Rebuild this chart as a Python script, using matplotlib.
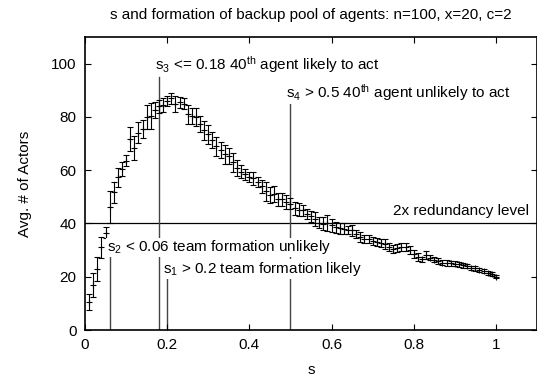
import matplotlib
matplotlib.use("Agg")
import matplotlib.pyplot as plt

plt.rcParams["font.family"] = ["Liberation Sans", "DejaVu Sans"]
plt.rcParams["mathtext.fontset"] = "custom"
plt.rcParams["mathtext.rm"] = "Liberation Sans"
plt.rcParams["mathtext.it"] = "Liberation Sans:italic"
plt.rcParams["mathtext.default"] = "rm"

# data
s = [0.01, 0.02, 0.03, 0.04, 0.05, 0.06, 0.07, 0.08, 0.09, 0.10,
     0.11, 0.12, 0.13, 0.14, 0.15, 0.16, 0.17, 0.18, 0.19, 0.20,
     0.21, 0.22, 0.23, 0.24, 0.25, 0.26, 0.27, 0.28, 0.29, 0.30,
     0.31, 0.32, 0.33, 0.34, 0.35, 0.36, 0.37, 0.38, 0.39, 0.40,
     0.41, 0.42, 0.43, 0.44, 0.45, 0.46, 0.47, 0.48, 0.49, 0.50,
     0.51, 0.52, 0.53, 0.54, 0.55, 0.56, 0.57, 0.58, 0.59, 0.60,
     0.61, 0.62, 0.63, 0.64, 0.65, 0.66, 0.67, 0.68, 0.69, 0.70,
     0.71, 0.72, 0.73, 0.74, 0.75, 0.76, 0.77, 0.78, 0.79, 0.80,
     0.81, 0.82, 0.83, 0.84, 0.85, 0.86, 0.87, 0.88, 0.89, 0.90,
     0.91, 0.92, 0.93, 0.94, 0.95, 0.96, 0.97, 0.98, 0.99, 1.00]

actors = [10.6, 16.8, 23.0, 31.0, 36.5, 46.0, 51.7, 57.3, 60.5, 63.6,
          71.7, 68.5, 74.1, 75.4, 79.8, 80.4, 82.5, 84.0, 84.5, 86.0,
          87.0, 85.0, 85.5, 85.0, 81.0, 80.5, 80.0, 77.5, 75.0, 73.5,
          71.5, 69.0, 67.5, 66.0, 65.5, 63.0, 61.0, 59.5, 58.5, 57.5,
          57.0, 55.5, 54.0, 52.0, 50.5, 51.0, 49.0, 49.0, 48.0, 47.4,
          45.7, 45.2, 44.9, 43.6, 42.7, 41.7, 40.3, 39.9, 40.3, 39.3,
          38.6, 38.2, 38.0, 37.4, 37.4, 36.1, 34.9, 34.3, 34.0, 33.3,
          33.0, 32.8, 32.3, 31.2, 30.5, 30.9, 31.2, 31.0, 30.2, 28.4,
          27.4, 26.5, 28.0, 27.2, 26.4, 25.9, 25.3, 25.2, 25.0, 24.9,
          24.7, 24.3, 24.1, 23.4, 23.1, 22.4, 22.2, 21.4, 21.0, 20.0]

err = [3.0, 4.5, 4.5, 4.0, 2.0, 6.0, 4.0, 3.5, 2.5, 2.0,
       4.5, 4.5, 4.0, 3.5, 4.5, 5.0, 3.0, 2.5, 2.5, 2.0,
       2.0, 3.0, 2.0, 2.0, 3.5, 3.0, 3.5, 3.0, 3.5, 3.5,
       3.0, 3.5, 3.0, 3.5, 3.0, 3.5, 3.0, 2.5, 2.0, 2.0,
       2.5, 2.0, 2.5, 3.5, 3.0, 3.0, 2.5, 2.5, 2.5, 2.0,
       2.5, 2.5, 2.0, 2.0, 2.0, 2.5, 2.0, 2.5, 3.0, 2.5,
       2.0, 2.0, 2.0, 1.5, 2.0, 1.5, 2.0, 1.5, 1.5, 1.5,
       1.5, 1.5, 2.0, 1.5, 1.5, 1.5, 1.5, 1.5, 1.5, 1.5,
       1.5, 1.0, 1.5, 1.0, 1.0, 1.0, 1.0, 1.0, 1.0, 1.0,
       1.0, 1.0, 0.8, 0.8, 0.8, 0.8, 0.8, 0.6, 0.6, 0.6]

# thresholds: (x, top of line, label x, label y, label)
thresholds = [
    (0.06, 28, 0.054, 31, r"s$_2$ < 0.06 team formation unlikely"),
    (0.20, 20, 0.19, 23, r"s$_1$ > 0.2 team formation likely"),
    (0.18, 95, 0.17, 99.5, r"s$_3$ <= 0.18 40$^{th}$ agent likely to act"),
    (0.50, 85, 0.49, 89, r"s$_4$ > 0.5 40$^{th}$ agent unlikely to act"),
]
redundancy = 40

fig = plt.figure(figsize=(5.37, 3.80), dpi=100)
ax = fig.add_axes([85 / 537, 50 / 380, 452 / 537, 293 / 380])

ax.axhline(redundancy, color="black", lw=0.9, zorder=1)
for x, top, lx, ly, txt in thresholds:
    ax.plot([x, x], [0, top], color="#444444", lw=1.0, zorder=1)

ax.errorbar(s, actors, yerr=err, fmt="+", color="black", ms=4, mew=0.8,
            elinewidth=0.8, capsize=2.2, capthick=0.8, zorder=2)

for x, top, lx, ly, txt in thresholds:
    ax.text(lx, ly, txt, fontsize=11, ha="left", va="center", zorder=3,
            bbox=dict(facecolor="white", edgecolor="none", pad=0.5))
ax.text(0.75, 44.5, "2x redundancy level", fontsize=11, ha="left", va="center")

ax.set_xlim(0, 1.1)
ax.set_ylim(0, 110)
ax.set_xticks([0, 0.2, 0.4, 0.6, 0.8, 1.0])
ax.set_xticklabels(["0", "0.2", "0.4", "0.6", "0.8", "1"])
ax.set_yticks([0, 20, 40, 60, 80, 100])
ax.tick_params(direction="in", top=True, right=True, length=4, width=0.8,
               labelsize=11, pad=6)
for sp in ax.spines.values():
    sp.set_linewidth(1.2)

ax.set_xlabel("s", fontsize=11, labelpad=8)
ax.set_ylabel("Avg. # of Actors", fontsize=11, labelpad=14)
ax.set_title("s and formation of backup pool of agents: n=100, x=20, c=2",
             fontsize=11, pad=13)

fig.savefig("out.png", dpi=100)
